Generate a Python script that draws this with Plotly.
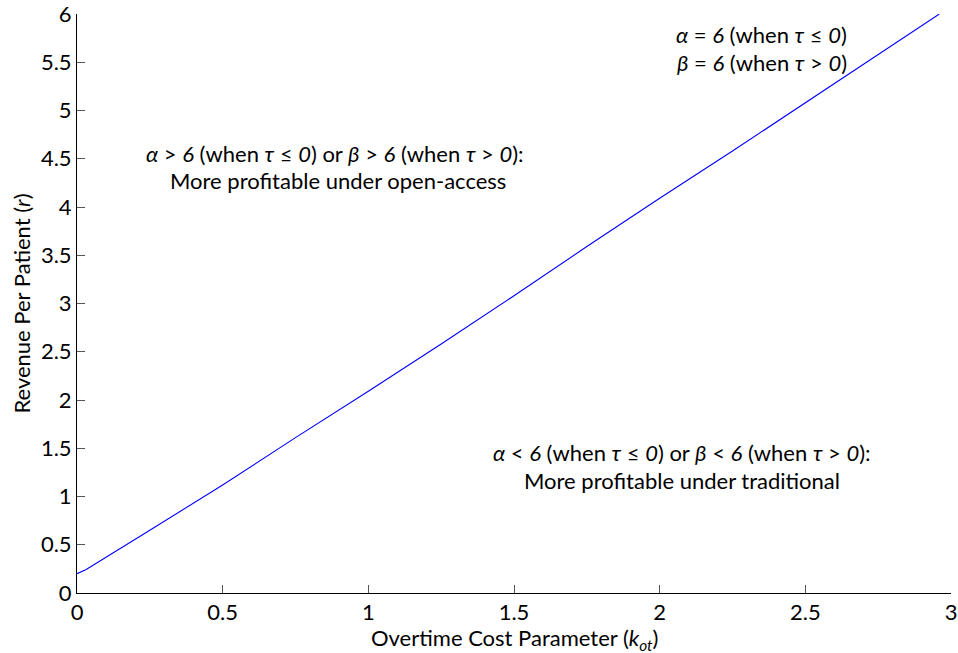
import plotly.graph_objects as go

# Data
k_ot = [0, 0.03, 0.25, 0.5, 0.75, 1.0, 1.25, 1.5, 1.75, 2.0, 2.25, 2.5, 2.75, 2.96]
revenue = [0.2, 0.24, 0.65, 1.12, 1.61, 2.09, 2.58, 3.08, 3.59, 4.09, 4.58, 5.08, 5.58, 6.0]

x_ticks = [0, 0.5, 1, 1.5, 2, 2.5, 3]
x_ticklabels = ["0", "0.5", "1", "1.5", "2", "2.5", "3"]
y_ticks = [0, 0.5, 1, 1.5, 2, 2.5, 3, 3.5, 4, 4.5, 5, 5.5, 6]
y_ticklabels = ["0", "0.5", "1", "1.5", "2", "2.5", "3", "3.5", "4", "4.5", "5", "5.5", "6"]

FONT = "Lato, 'Open Sans', sans-serif"
FS = 22

fig = go.Figure()
fig.add_trace(go.Scatter(x=k_ot, y=revenue, mode="lines",
                         line=dict(color="#0000ff", width=1.1), showlegend=False,
                         hoverinfo="skip"))

ann_font = dict(family=FONT, size=FS, color="black")
annotations = [
    ("<i>α</i> = <i>6</i> (when <i>τ</i> ≤ <i>0</i>)", 2.35, 5.79),
    ("<i>β</i> = <i>6</i> (when <i>τ</i> > <i>0</i>)", 2.35, 5.50),
    ("<i>α</i> > <i>6</i> (when <i>τ</i> ≤ <i>0</i>) or <i>β</i> > <i>6</i> (when <i>τ</i> > <i>0</i>):", 0.886, 4.55),
    ("More profitable under open-access", 0.895, 4.27),
    ("<i>α</i> < <i>6</i> (when <i>τ</i> ≤ <i>0</i>) or <i>β</i> < <i>6</i> (when <i>τ</i> > <i>0</i>):", 2.075, 1.46),
    ("More profitable under traditional", 2.075, 1.17),
]
for text, x, y in annotations:
    fig.add_annotation(x=x, y=y, xref="x", yref="y", text=text, showarrow=False,
                       font=ann_font, xanchor="center", yanchor="middle")

# x-axis title placed as an annotation for exact vertical placement
fig.add_annotation(x=1.5, y=0, xref="x", yref="paper", yanchor="top", yshift=-29,
                   text="Overtime Cost Parameter (<i>k</i><sub><i>ot</i></sub>)",
                   showarrow=False, font=ann_font)

fig.update_layout(
    width=958, height=653,
    margin=dict(l=77, r=7, t=14, b=60),
    paper_bgcolor="white", plot_bgcolor="white",
    font=dict(family=FONT, size=FS, color="black"),
    xaxis=dict(range=[0, 3], tickvals=x_ticks, ticktext=x_ticklabels,
               ticks="inside", ticklen=8, tickcolor="#555555", tickwidth=1,
               showline=True, linecolor="black", linewidth=1,
               showgrid=False, zeroline=False, automargin=False,
               ticklabeloverflow="allow",
               tickfont=dict(family=FONT, size=FS)),
    yaxis=dict(range=[0, 6], tickvals=y_ticks, ticktext=y_ticklabels,
               ticks="inside", ticklen=8, tickcolor="#555555", tickwidth=1,
               showline=True, linecolor="black", linewidth=1,
               showgrid=False, zeroline=False, automargin=False,
               ticklabeloverflow="allow",
               tickfont=dict(family=FONT, size=FS),
               title=dict(text="Revenue Per Patient (<i>r</i>)",
                          font=dict(family=FONT, size=FS), standoff=4)),
)

fig.write_html("out.html")
